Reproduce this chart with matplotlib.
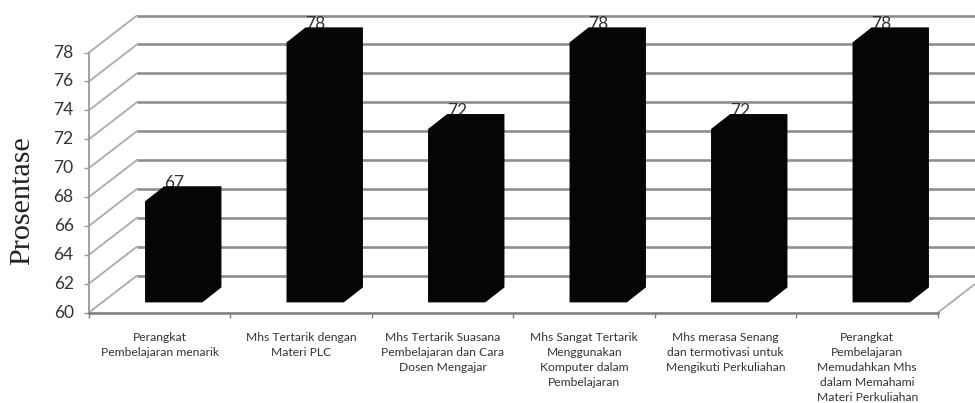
import numpy as np
import matplotlib
matplotlib.use("Agg")
import matplotlib.pyplot as plt
from matplotlib.patches import Polygon

categories = [
    "Perangkat\nPembelajaran menarik",
    "Mhs Tertarik dengan\nMateri PLC",
    "Mhs Tertarik Suasana\nPembelajaran dan Cara\nDosen Mengajar",
    "Mhs Sangat Tertarik\nMenggunakan\nKomputer dalam\nPembelajaran",
    "Mhs merasa Senang\ndan termotivasi untuk\nMengikuti Perkuliahan",
    "Perangkat\nPembelajaran\nMemudahkan Mhs\ndalam Memahami\nMateri Perkuliahan",
]
values = [67, 78, 72, 78, 72, 78]
y_ticks = list(range(60, 80, 2))
y_label = "Prosentase"

W, H = 975, 403
fig = plt.figure(figsize=(W / 100, H / 100), dpi=100, facecolor="white")
ax = fig.add_axes([89 / W, 1 - 312.5 / H, (938 - 89) / W, (312.5 - 52.5) / H])
ax.set_xlim(0, 6)
ax.set_ylim(60, 78)
ax.patch.set_visible(False)

# oblique projection of the 3-D wall and bars, in data units
wall_dx, wall_dy = 0.339, 2.56
bar_left, bar_w = 0.396, 0.405
bar_dx, bar_dy = 0.135, 1.04
bar_base = 0.7

grid_c, diag_c = "#8e8e8e", "#ababab"
for v in y_ticks:
    ax.plot([wall_dx, 6 + wall_dx], [v + wall_dy] * 2, color=grid_c, lw=1.9,
            clip_on=False, zorder=1, solid_capstyle="butt")
    ax.plot([0, wall_dx], [v, v + wall_dy], color=diag_c, lw=1.3, clip_on=False, zorder=1)
ax.plot([6, 6 + wall_dx], [60, 60 + wall_dy], color=diag_c, lw=1.3, clip_on=False, zorder=1)

for i, v in enumerate(values):
    x0, x1 = i + bar_left, i + bar_left + bar_w
    b, t = 60 + bar_base, v + bar_base
    ax.add_patch(Polygon(
        [(x0, b), (x1, b), (x1 + bar_dx, b + bar_dy), (x1 + bar_dx, t + bar_dy),
         (x0 + bar_dx, t + bar_dy), (x0, t)],
        closed=True, fc="#050505", ec="none", clip_on=False, zorder=3))
    ax.text(i + 0.6, t + bar_dy + 0.22, str(v), ha="center", va="center",
            fontfamily="Lato", fontsize=12.5, color="#333333", zorder=2, clip_on=False)

for s in ("top", "right"):
    ax.spines[s].set_visible(False)
ax.spines["left"].set_color("#9a9a9a")
ax.spines["left"].set_linewidth(1.3)
ax.spines["bottom"].set_color("#808080")
ax.spines["bottom"].set_linewidth(1.9)

ax.set_yticks(y_ticks)
ax.set_xticks(range(7))
ax.set_xticklabels([])
ax.set_xticks(np.arange(6) + 0.5, categories, minor=True, fontfamily="Lato",
              fontsize=8.7, color="#333333", linespacing=1.45)
ax.tick_params(axis="x", which="major", length=3.5, width=1, color="#808080")
ax.tick_params(axis="x", which="minor", length=0, pad=14)
ax.tick_params(axis="y", length=3.5, width=1, color="#9a9a9a", pad=7.5,
               labelsize=12.5, labelcolor="#333333")
for lb in ax.get_yticklabels():
    lb.set_fontfamily("Lato")
    lb.set_verticalalignment("center")

fig.text(22 / W, 1 - 201 / H, y_label, rotation=90, ha="center", va="center",
         fontfamily="Liberation Serif", fontsize=21.7, color="#222222")

fig.savefig("out.png", dpi=100)
